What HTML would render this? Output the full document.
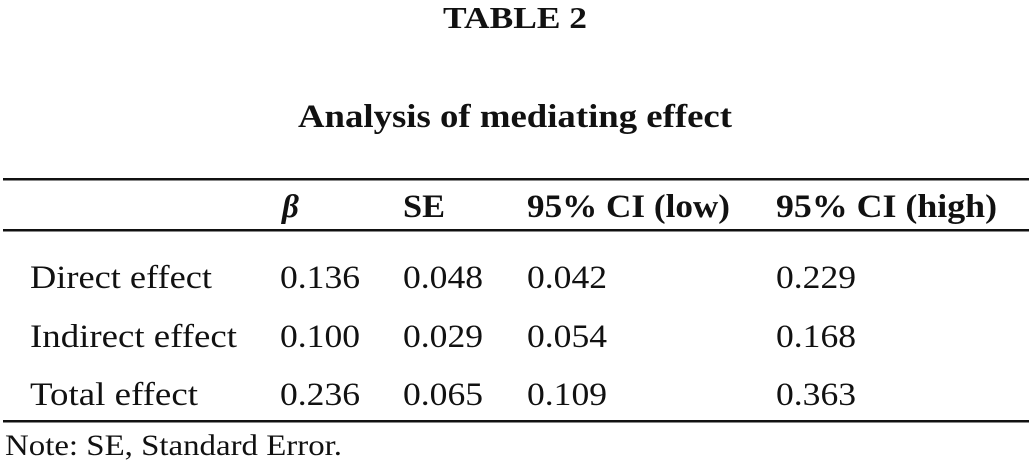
<!DOCTYPE html>
<html><head><meta charset="utf-8"><style>
html,body{margin:0;padding:0;background:#fff;}
svg{display:block;font-family:"Liberation Serif",serif;fill:#111;}
.b{font-weight:bold;}
</style></head><body>
<svg width="1029" height="464" viewBox="0 0 1029 464">
<text class="b" x="443" y="28" font-size="31" textLength="144" lengthAdjust="spacingAndGlyphs">TABLE 2</text>
<text class="b" x="298" y="127" font-size="33" textLength="434" lengthAdjust="spacingAndGlyphs">Analysis of mediating effect</text>
<rect x="3" y="178" width="1026" height="2.5" fill="#111"/>
<g class="b" font-size="33">
<text x="282" y="217" font-style="italic">β</text>
<text x="403" y="217" textLength="42" lengthAdjust="spacingAndGlyphs">SE</text>
<text x="527" y="217" textLength="203" lengthAdjust="spacingAndGlyphs">95% CI (low)</text>
<text x="776" y="217" textLength="221" lengthAdjust="spacingAndGlyphs">95% CI (high)</text>
</g>
<rect x="3" y="229" width="1026" height="2.5" fill="#111"/>
<g font-size="33">
<text x="30" y="288" textLength="182" lengthAdjust="spacingAndGlyphs">Direct effect</text><text x="280" y="288" textLength="80" lengthAdjust="spacingAndGlyphs">0.136</text><text x="403" y="288" textLength="80" lengthAdjust="spacingAndGlyphs">0.048</text><text x="527" y="288" textLength="80" lengthAdjust="spacingAndGlyphs">0.042</text><text x="776" y="288" textLength="80" lengthAdjust="spacingAndGlyphs">0.229</text>
</g>
<g font-size="33">
<text x="30" y="347" textLength="207" lengthAdjust="spacingAndGlyphs">Indirect effect</text><text x="280" y="347" textLength="80" lengthAdjust="spacingAndGlyphs">0.100</text><text x="403" y="347" textLength="80" lengthAdjust="spacingAndGlyphs">0.029</text><text x="527" y="347" textLength="80" lengthAdjust="spacingAndGlyphs">0.054</text><text x="776" y="347" textLength="80" lengthAdjust="spacingAndGlyphs">0.168</text>
</g>
<g font-size="33">
<text x="30" y="405" textLength="168" lengthAdjust="spacingAndGlyphs">Total effect</text><text x="280" y="405" textLength="80" lengthAdjust="spacingAndGlyphs">0.236</text><text x="403" y="405" textLength="80" lengthAdjust="spacingAndGlyphs">0.065</text><text x="527" y="405" textLength="80" lengthAdjust="spacingAndGlyphs">0.109</text><text x="776" y="405" textLength="80" lengthAdjust="spacingAndGlyphs">0.363</text>
</g>
<rect x="3" y="420" width="1026" height="2.5" fill="#111"/>
<text x="5" y="455" font-size="30" textLength="337" lengthAdjust="spacingAndGlyphs">Note: SE, Standard Error.</text>
</svg>
</body></html>
